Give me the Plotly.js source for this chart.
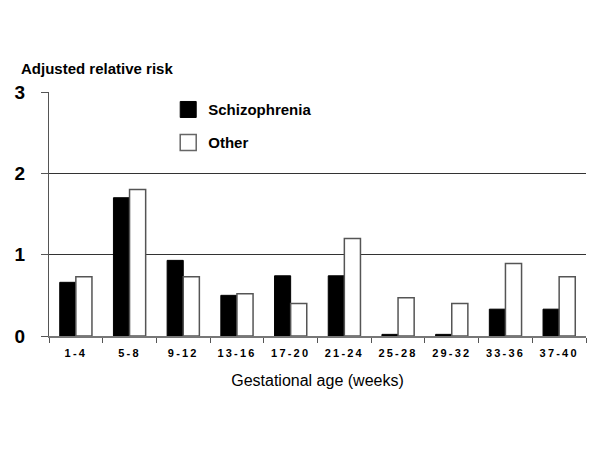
<!DOCTYPE html>
<html>
<head>
<meta charset="utf-8">
<script src="https://cdn.plot.ly/plotly-3.0.1.min.js"></script>
<style>
html,body{margin:0;padding:0;background:#fff;}
#chart{width:600px;height:450px;}
.xaxislayer-above .xtick text{letter-spacing:2.2px;}
</style>
</head>
<body>
<div id="chart"></div>
<script>
const categories = ['1-4','5-8','9-12','13-16','17-20','21-24','25-28','29-32','33-36','37-40'];
const schizophrenia = [0.66, 1.70, 0.93, 0.50, 0.74, 0.74, 0.02, 0.02, 0.33, 0.33];
const other = [0.73, 1.80, 0.73, 0.52, 0.40, 1.20, 0.47, 0.40, 0.89, 0.73];
const yTicks = [0, 1, 2, 3];

const FONT = 'Liberation Sans, Arial, sans-serif';

const traces = [
  {type:'bar', name:'Schizophrenia', x:categories, y:schizophrenia, showlegend:false,
   marker:{color:'#000000', line:{color:'#000000', width:1}}},
  {type:'bar', name:'Other', x:categories, y:other, showlegend:false,
   marker:{color:'#ffffff', line:{color:'#555555', width:1.5}}},
  {type:'scatter', mode:'markers', name:'<b>Schizophrenia</b>', x:[null], y:[null], legend:'legend',
   marker:{symbol:'square', size:20, color:'#000000', line:{color:'#000000', width:1}}},
  {type:'scatter', mode:'markers', name:'<b>Other</b>', x:[null], y:[null], legend:'legend2',
   marker:{symbol:'square', size:20, color:'#ffffff', line:{color:'#666666', width:1.5}}}
];

const legendCommon = {xanchor:'left', yanchor:'top', bgcolor:'rgba(0,0,0,0)',
  font:{size:15, family:FONT, color:'#000'}, itemwidth:30};

const layout = {
  width:600, height:450,
  margin:{l:49, r:14, t:92, b:114},
  paper_bgcolor:'#ffffff', plot_bgcolor:'#ffffff',
  font:{family:FONT, color:'#000000'},
  barmode:'group', bargap:0.4, bargroupgap:0,
  showlegend:true,
  legend:Object.assign({x:0.222, y:0.995}, legendCommon),
  legend2:Object.assign({x:0.222, y:0.86}, legendCommon),
  xaxis:{type:'category', showgrid:false, zeroline:false,
         showline:true, linecolor:'#777777', linewidth:1.5,
         ticks:'outside', tickson:'boundaries', ticklen:5, tickcolor:'#555555',
         tickfont:{size:11, family:FONT, color:'#000', weight:'bold'},
         ticklabelstandoff:6,
         title:{text:'Gestational age (weeks)', font:{size:16, family:FONT, color:'#000'}, standoff:17}},
  yaxis:{range:[0,3], tickvals:yTicks, ticktext:yTicks.map(String),
         showgrid:true, gridcolor:'#333333', gridwidth:1,
         zeroline:false, showline:true, linecolor:'#555555', linewidth:1,
         ticks:'outside', ticklen:7, tickcolor:'#555555',
         ticklabelstandoff:12,
         tickfont:{size:19, family:FONT, color:'#000', weight:'bold'}},
  annotations:[
    {text:'<b>Adjusted relative risk</b>', xref:'paper', yref:'paper', x:-0.056, y:1.097,
     xanchor:'left', yanchor:'middle', showarrow:false, font:{size:15, family:FONT, color:'#000'}}
  ]
};

Plotly.newPlot('chart', traces, layout, {displayModeBar:false, staticPlot:true});
</script>
</body>
</html>
